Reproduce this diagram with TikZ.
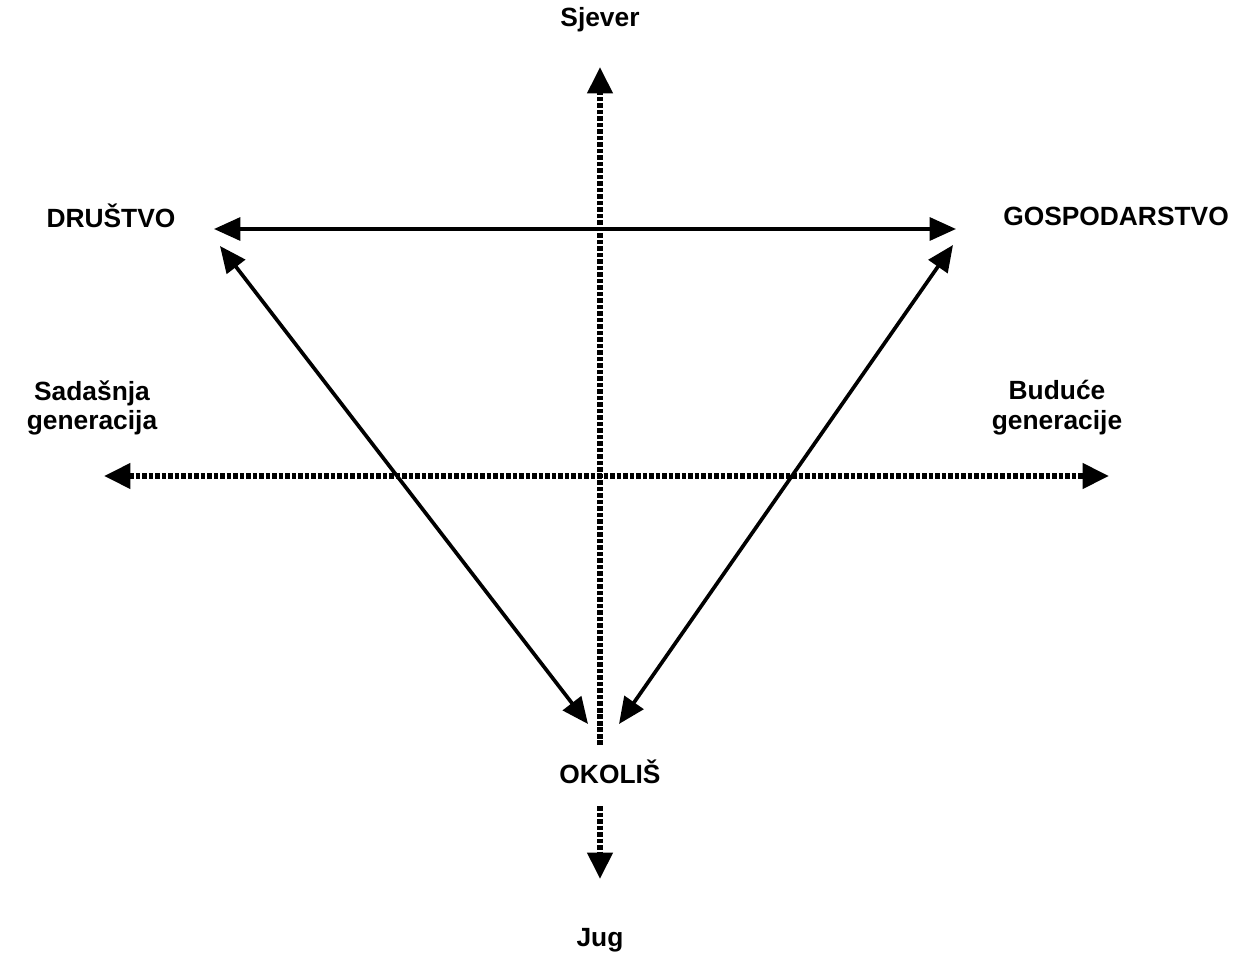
\documentclass[tikz,border=0pt]{standalone}
\usepackage{fontspec}
\setmainfont{Liberation Sans}
\usetikzlibrary{positioning, arrows.meta, calc}

\tikzset{
  lbl/.style={font=\bfseries\fontsize{15}{17}\selectfont, align=center, inner sep=1pt},
  solidarrow/.style={line width=2.1pt, {Triangle[length=15pt, width=13pt]}-{Triangle[length=15pt, width=13pt]}},
  dotline/.style={line width=3pt, dash pattern=on 2.6pt off 1.1pt},
  dotarrow/.style={dotline, -{Triangle[length=15pt, width=14pt]}},
}

\begin{document}
\begin{tikzpicture}[x=0.02cm, y=-0.02cm]
		\useasboundingbox (0, 0) rectangle (1245, 953);
		% labels
		\node[lbl] (sjever) at (600, 20) {Sjever};
		\node[lbl] (jug) at (600, 940) {Jug};
		\node[lbl] (okolis) at (610, 772) {OKOLIŠ};
		\node[lbl] (drustvo) at (111, 216) {DRUŠTVO};
		\node[lbl] (gosp) at (1116, 216) {GOSPODARSTVO};
		\node[lbl] (sadasnja) at (92, 408) {Sadašnja\\generacija};
		\node[lbl] (buduce) at (1057, 408) {Buduće\\generacije};
		% end points
		\coordinate (ntip) at (600, 67);
		\coordinate (nend) at (600, 745);
		\coordinate (stop) at (600, 806);
		\coordinate (stip) at (600, 879);
		\coordinate (wtip) at (104, 476);
		\coordinate (etip) at (1109, 476);
		\coordinate (dl) at (214, 229);
		\coordinate (gr) at (956, 229);
		\coordinate (dd) at (220, 246);
		\coordinate (gd) at (953, 245);
		\coordinate (ol) at (588, 724);
		\coordinate (or) at (619, 724);
		% axes
		\draw[dotarrow] (nend) -- (ntip);
		\draw[dotarrow] (stop) -- (stip);
		\draw[dotline, {Triangle[length=15pt, width=14pt]}-{Triangle[length=15pt, width=14pt]}] (wtip) -- (etip);
		% triangle
		\draw[solidarrow] (dl) -- (gr);
		\draw[solidarrow] (dd) -- (ol);
		\draw[solidarrow] (gd) -- (or);
	\end{tikzpicture}
\end{document}
